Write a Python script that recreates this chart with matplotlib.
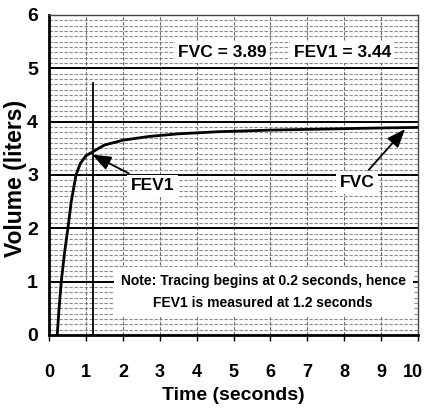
import numpy as np
import matplotlib
matplotlib.use('Agg')
import matplotlib.pyplot as plt
import matplotlib.transforms as mtransforms

# spirometry tracing (seconds, liters)
time_s = [0.22, 0.27, 0.33, 0.42, 0.51, 0.6, 0.73, 0.85, 1.0, 1.2, 1.5, 2.0, 2.7, 3.5, 4.6, 6.0, 7.5, 9.0, 10.0]
volume_l = [0.0, 0.5, 1.0, 1.55, 2.0, 2.5, 3.0, 3.22, 3.36, 3.44, 3.56, 3.65, 3.72, 3.77, 3.81, 3.84, 3.86, 3.88, 3.89]

fvc = 3.89
fev1 = 3.44
fev1_time = 1.2

x_ticks = list(range(0, 11))
y_ticks = list(range(0, 7))

plt.rcParams['font.family'] = ['Liberation Sans', 'DejaVu Sans']
plt.rcParams['font.weight'] = 'bold'

fig = plt.figure(figsize=(4.27, 4.13), dpi=100)
ax = fig.add_axes([0.115, 0.189, 0.864, 0.775])

# grid: dashed minor lines, solid majors
for v in np.arange(0.1, 6.0, 0.1):
    if abs(v - round(v)) > 1e-6:
        ax.axhline(v, color='#8a8a8a', lw=0.8, ls=(0, (3, 1.5)), zorder=1)
for t in x_ticks[1:-1]:
    ax.axvline(t, color='#6a6a6a', lw=0.8, ls=(0, (3, 1.5)), zorder=1)
for v in y_ticks[1:-1]:
    ax.axhline(v, color='black', lw=1.4, zorder=2)

ax.plot(time_s, volume_l, color='black', lw=2, zorder=5, solid_capstyle='round')
ax.plot([fev1_time, fev1_time], [0, 4.73], color='black', lw=1.3, zorder=5)

box = dict(facecolor='white', edgecolor='none', pad=2.5)
ax.text(4.7, 5.3, 'FVC = %.2f' % fvc, ha='center', va='center', fontsize=12.5, bbox=box, zorder=6)
ax.text(7.95, 5.3, 'FEV1 = %.2f' % fev1, ha='center', va='center', fontsize=12.5, bbox=box, zorder=6)

ax.annotate('FEV1', xy=(1.17, 3.38), xytext=(2.8, 2.8), ha='center', va='center', fontsize=12.5,
            bbox=box, zorder=6,
            arrowprops=dict(arrowstyle='-|>,head_length=0.9,head_width=0.35', color='black', lw=1.3,
                            shrinkA=2, shrinkB=0))
ax.annotate('FVC', xy=(9.65, 3.86), xytext=(8.35, 2.85), ha='center', va='center', fontsize=12.5,
            bbox=box, zorder=6,
            arrowprops=dict(arrowstyle='-|>,head_length=0.9,head_width=0.35', color='black', lw=1.3,
                            shrinkA=2, shrinkB=0))

ax.text(5.8, 0.8, 'Note: Tracing begins at 0.2 seconds, hence\nFEV1 is measured at 1.2 seconds',
        ha='center', va='center', fontsize=10, linespacing=1.75,
        bbox=dict(facecolor='white', edgecolor='none', pad=5), zorder=6)

ax.set_xlim(0, 10)
ax.set_ylim(0, 6)
ax.set_xticks(x_ticks)
ax.set_yticks(y_ticks)
ax.tick_params(axis='x', labelsize=13, length=4, width=1, pad=17, direction='out')
ax.tick_params(axis='y', labelsize=14, length=0, pad=8)
for lab in ax.get_xticklabels() + ax.get_yticklabels():
    lab.set_fontweight('bold')
last = ax.get_xticklabels()[-1]
last.set_transform(last.get_transform() + mtransforms.ScaledTranslation(-4 / 72, 0, fig.dpi_scale_trans))

ax.spines['left'].set_linewidth(2)
ax.spines['bottom'].set_linewidth(2)
ax.spines['top'].set_linewidth(1)
ax.spines['right'].set_linewidth(1)
ax.spines['top'].set_color('#444444')
ax.spines['right'].set_color('#444444')

ax.set_xlabel('Time (seconds)', fontsize=14, fontweight='bold', labelpad=4)
ax.set_ylabel('Volume (liters)', fontsize=16.5, fontweight='bold')
ax.yaxis.set_label_coords(-0.06, 0.49)

fig.savefig('out.png', dpi=100)
